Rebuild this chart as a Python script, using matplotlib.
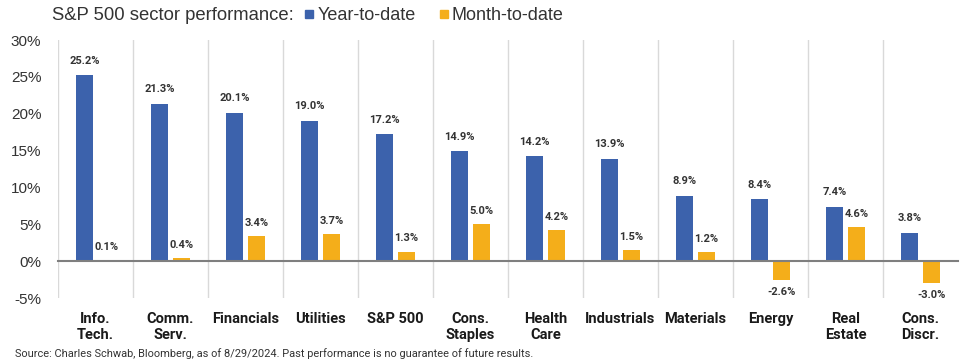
import matplotlib
matplotlib.use("Agg")
import matplotlib.pyplot as plt
import numpy as np
from matplotlib.lines import Line2D

categories = ["Info.\nTech.", "Comm.\nServ.", "Financials", "Utilities", "S&P 500",
              "Cons.\nStaples", "Health\nCare", "Industrials", "Materials", "Energy",
              "Real\nEstate", "Cons.\nDiscr."]
ytd = [25.2, 21.3, 20.1, 19.0, 17.2, 14.9, 14.2, 13.9, 8.9, 8.4, 7.4, 3.8]
mtd = [0.1, 0.4, 3.4, 3.7, 1.3, 5.0, 4.2, 1.5, 1.2, -2.6, 4.6, -3.0]
yticks = [-5, 0, 5, 10, 15, 20, 25, 30]

BLUE = "#3C62AC"
ORANGE = "#F4AE1A"
LAB_FONT = ["Roboto", "DejaVu Sans"]
ARIAL = ["Liberation Sans", "DejaVu Sans"]
plt.rcParams['font.family'] = LAB_FONT

fig = plt.figure(figsize=(9.61, 3.64), dpi=100)
ax = fig.add_axes([58/961, 1-298/364, 900/961, 258/364])

x = np.arange(len(categories))
w = 0.22
off = 0.148
ax.bar(x - off, ytd, w, color=BLUE, zorder=3)
ax.bar(x + off, mtd, w, color=ORANGE, zorder=3)

for xi, v in zip(x - off, ytd):
    ax.annotate(f"{v:.1f}%", (xi, v), xytext=(0, 7), textcoords="offset points",
                ha="center", va="bottom", fontsize=8, fontweight="bold", color="#333333")
for xi, v in zip(x + off, mtd):
    if v >= 0:
        ax.annotate(f"{v:.1f}%", (xi, v), xytext=(0, 6), textcoords="offset points",
                    ha="center", va="bottom", fontsize=8, fontweight="bold", color="#333333")
    else:
        ax.annotate(f"{v:.1f}%", (xi, v), xytext=(0, -5), textcoords="offset points",
                    ha="center", va="top", fontsize=8, fontweight="bold", color="#333333")

for i in range(len(categories)):
    ax.axvline(i - 0.5, color="#D9D9D9", lw=1, zorder=1)
ax.axhline(0, color="#7F7F7F", lw=1.5, zorder=4, clip_on=False)

ax.set_xlim(-0.5, len(categories) - 0.5)
ax.set_ylim(-5, 30)
ax.set_yticks(yticks)
ax.set_yticklabels([f"{t}%" for t in yticks], fontsize=11, color="#333333", family=ARIAL)
ax.set_xticks(x)
ax.set_xticklabels(categories, fontsize=10.5, fontweight="bold", color="#1a1a1a",
                   linespacing=1.2)
ax.tick_params(axis="both", length=0)
ax.tick_params(axis="y", pad=12)
ax.tick_params(axis="x", pad=10)
for s in ax.spines.values():
    s.set_visible(False)

fig.text(52/961, 1-16/364, "S&P 500 sector performance:", fontsize=13.3, color="#333333",
         ha="left", va="center", family=ARIAL)
handles = [Line2D([], [], marker="s", linestyle="none", color=BLUE, markersize=5.5),
           Line2D([], [], marker="s", linestyle="none", color=ORANGE, markersize=5.5)]
fig.legend(handles, ["Year-to-date", "Month-to-date"], loc="center left",
           bbox_to_anchor=(303/961, 1-16/364), ncol=2, frameon=False,
           prop={"family": ARIAL, "size": 13},
           handletextpad=0.1, columnspacing=1.2, handlelength=0.7,
           labelcolor="#333333", borderaxespad=0, borderpad=0)

fig.text(15/961, 1-354/364, "Source: Charles Schwab, Bloomberg, as of 8/29/2024. Past performance is no guarantee of future results.",
         fontsize=7.9, color="#333333", ha="left", va="center")

fig.savefig("out.png", dpi=100)
